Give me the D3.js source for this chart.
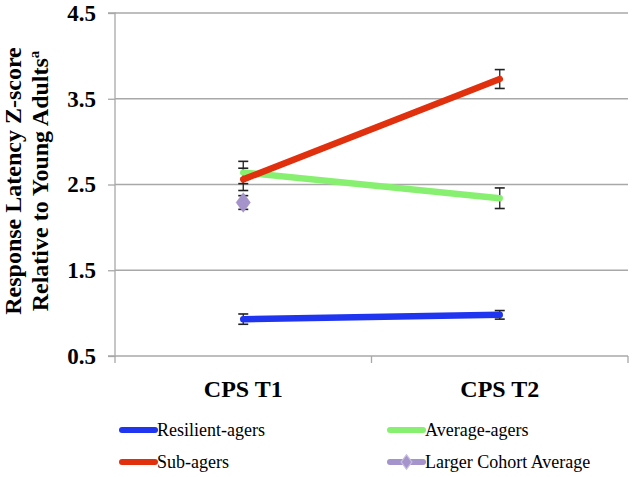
<!DOCTYPE html>
<html><head><meta charset="utf-8">
<script src="https://cdn.jsdelivr.net/npm/d3@7"></script>
<style>body{margin:0;background:#fff}svg{display:block}text{font-family:"Liberation Serif","DejaVu Serif",serif}</style>
</head><body>
<svg id="c" width="633" height="477"></svg>
<script>
const categories = ["CPS T1", "CPS T2"];
const yTicks = [0.5, 1.5, 2.5, 3.5, 4.5];
const seriesNames = ["Resilient-agers", "Average-agers", "Sub-agers", "Larger Cohort Average"];
const resilient = [0.93, 0.98];
const resilientErr = [0.06, 0.05];
const average = [2.64, 2.34];
const averageErr = [0.13, 0.12];
const sub = [2.56, 3.73];
const subErr = [0.13, 0.11];
const cohort = [2.29];
const cohortErr = [0.08];
const colors = ["#1f35f0", "#88f070", "#e0300e", "#a593cc"];

const svg = d3.select("#c");
const x = d3.scaleBand().domain(categories).range([115, 628]);
const y = d3.scaleLinear().domain([0.5, 4.5]).range([356, 13]);
const font = "Liberation Serif";

// gridlines
svg.append("g").selectAll("line").data(yTicks.slice(1)).join("line")
  .attr("x1", 115).attr("x2", 628).attr("y1", d => y(d)).attr("y2", d => y(d))
  .attr("stroke", "#a8a8a8").attr("stroke-width", 1.3);

// y axis
const ya = svg.append("g").attr("transform", "translate(115,0)")
  .call(d3.axisLeft(y).tickValues(yTicks).tickFormat(d3.format(".1f")).tickSize(7).tickPadding(12));
ya.select(".domain").attr("stroke", "#a8a8a8").attr("stroke-width", 1.3).attr("d", `M-7,${y(4.5)}H0V${y(0.5)}H-7`);
ya.selectAll(".tick line").attr("stroke", "#a8a8a8").attr("stroke-width", 1.3);
ya.selectAll("text").attr("font-family", font).attr("font-weight", "bold").attr("font-size", 23).attr("fill", "#000");

// x axis
const xa = svg.append("g").attr("transform", `translate(0,${y(0.5)})`)
  .call(d3.axisBottom(x).tickSize(0).tickPadding(24));
xa.select(".domain").attr("stroke", "#a8a8a8").attr("stroke-width", 1.3)
  .attr("d", `M115,0V0H628V0`);
xa.selectAll("text").attr("font-family", font).attr("font-weight", "bold").attr("font-size", 24).attr("fill", "#000");
const bounds = [115, (115 + 628) / 2, 628];
svg.append("g").selectAll("line").data(bounds).join("line")
  .attr("x1", d => d).attr("x2", d => d).attr("y1", y(0.5)).attr("y2", y(0.5) + 7)
  .attr("stroke", "#a8a8a8").attr("stroke-width", 1.3);

// y title
const yt = svg.append("text").attr("transform", "translate(21,181) rotate(-90)")
  .attr("text-anchor", "middle").attr("font-family", font).attr("font-weight", "bold").attr("font-size", 24);
yt.append("tspan").attr("x", 0).attr("dy", 0).text("Response Latency Z-score");
const l2 = yt.append("tspan").attr("x", 0).attr("dy", 27).text("Relative to Young Adults");
l2.append("tspan").attr("font-size", 15).attr("dy", -9).text("a");

const cx = d => x(d) + x.bandwidth() / 2;
const line = d3.line().x((d, i) => cx(categories[i])).y(d => y(d));

function errBars(vals, errs) {
  const g = svg.append("g");
  vals.forEach((v, i) => {
    const xx = cx(categories[i]);
    const e = errs[i];
    g.append("line").attr("x1", xx).attr("x2", xx).attr("y1", y(v - e)).attr("y2", y(v + e)).attr("stroke", "#222").attr("stroke-width", 1.3);
    [v - e, v + e].forEach(t => g.append("line").attr("x1", xx - 5).attr("x2", xx + 5).attr("y1", y(t)).attr("y2", y(t)).attr("stroke", "#222").attr("stroke-width", 1.6));
  });
}

errBars(resilient, resilientErr);
errBars(average, averageErr);
errBars(sub, subErr);
errBars(cohort, cohortErr);

const series = [[resilient, colors[0]], [average, colors[1]], [sub, colors[2]]];
series.forEach(([vals, col]) => {
  svg.append("path").datum(vals).attr("d", line).attr("fill", "none")
    .attr("stroke", col).attr("stroke-width", 6.5).attr("stroke-linecap", "round");
});

const diamond = d3.symbol().type(d3.symbolDiamond).size(110);
svg.append("path").attr("d", diamond).attr("transform", `translate(${cx(categories[0])},${y(cohort[0])}) scale(1.25,1)`)
  .attr("fill", colors[3]).attr("stroke", "#9a8ac0").attr("stroke-width", 0.5);

// legend
const legendItems = [
  {name: seriesNames[0], col: colors[0], x: 122, y: 430, d: false},
  {name: seriesNames[1], col: colors[1], x: 390, y: 430, d: false},
  {name: seriesNames[2], col: colors[2], x: 122, y: 462, d: false},
  {name: seriesNames[3], col: colors[3], x: 390, y: 462, d: true}
];
const lg = svg.append("g").selectAll("g").data(legendItems).join("g")
  .attr("transform", d => `translate(${d.x},${d.y})`);
lg.append("line").attr("x1", 0).attr("x2", 33).attr("y1", 0).attr("y2", 0)
  .attr("stroke", d => d.col).attr("stroke-width", 6).attr("stroke-linecap", "round");
lg.filter(d => d.d).append("path").attr("d", d3.symbol().type(d3.symbolDiamond).size(60))
  .attr("transform", "translate(16.5,0) scale(1.3,1)").attr("fill", colors[3]).attr("stroke", "#c8bde0").attr("stroke-width", 1);
lg.append("text").attr("x", 35).attr("y", 6).attr("font-family", font).attr("font-size", 18).attr("fill", "#000")
  .text(d => d.name);
</script>
</body></html>
